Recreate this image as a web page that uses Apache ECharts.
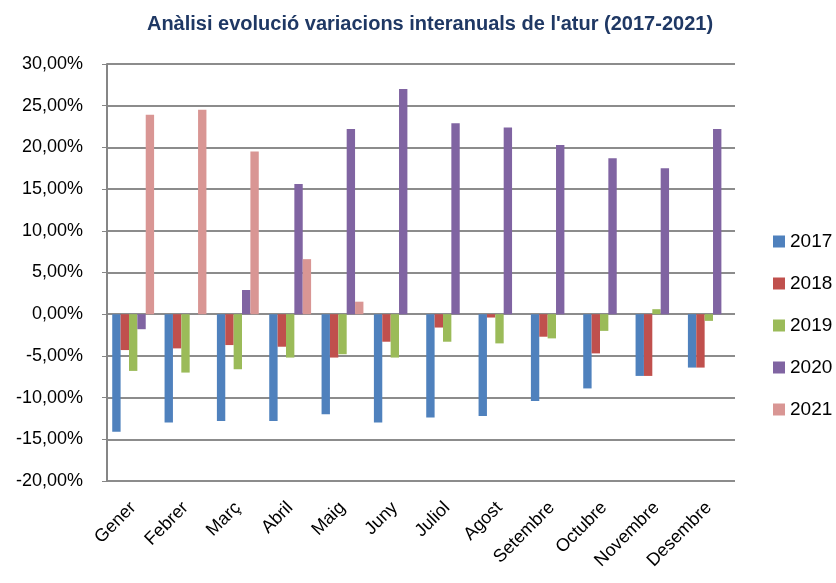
<!DOCTYPE html>
<html>
<head>
<meta charset="utf-8">
<script src="https://cdn.jsdelivr.net/npm/echarts@6/dist/echarts.min.js"></script>
<style>
  html, body { margin: 0; padding: 0; background: #fff; }
  #chart { width: 836px; height: 583px; }
</style>
</head>
<body>
<div id="chart"></div>
<script>
    'use strict';

    const months = ['Gener', 'Febrer', 'Març', 'Abril', 'Maig', 'Juny', 'Juliol', 'Agost', 'Setembre', 'Octubre', 'Novembre', 'Desembre'];

    const years = ['2017', '2018', '2019', '2020', '2021'];

    // variació interanual (%) per mes
    const v2017 = [-14.1, -13.0, -12.8, -12.8, -12.0, -13.0, -12.4, -12.2, -10.4, -8.9, -7.4, -6.4];
    const v2018 = [-4.3, -4.1, -3.7, -3.9, -5.2, -3.3, -1.6, -0.4, -2.7, -4.7, -7.4, -6.4];
    const v2019 = [-6.8, -7.0, -6.6, -5.2, -4.8, -5.2, -3.3, -3.5, -2.9, -2.0, 0.6, -0.8];
    const v2020 = [-1.8, null, 2.9, 15.6, 22.2, 27.0, 22.9, 22.4, 20.3, 18.7, 17.5, 22.2];
    const v2021 = [23.9, 24.5, 19.5, 6.6, 1.5, null, null, null, null, null, null, null];

    const seriesData = [v2017, v2018, v2019, v2020, v2021];
    const colors = ['#4F81BD', '#C0504D', '#9BBB59', '#8064A2', '#D99694'];

    const font = '"Liberation Sans", "DejaVu Sans", sans-serif';
    const pct = value => value.toFixed(2).replace('.', ',') + '%';

    const chart = echarts.init(document.getElementById('chart'));

    chart.setOption({
        animation: false,
        title: {
            text: "Anàlisi evolució variacions interanuals de l'atur (2017-2021)",
            left: 425,
            textAlign: 'center',
            top: 9,
            textStyle: { fontFamily: font, fontSize: 20, fontWeight: 'bold', color: '#1F3864' }
        },
        legend: {
            orient: 'vertical',
            left: 768,
            top: 227,
            itemWidth: 12,
            itemHeight: 12,
            itemGap: 23,
            icon: 'rect',
            data: years,
            textStyle: { fontFamily: font, fontSize: 19, lineHeight: 19, color: '#000' }
        },
        grid: { left: 107, right: 101, top: 64, bottom: 102 },
        xAxis: {
            type: 'category',
            data: months,
            axisLine: { show: false },
            axisTick: { show: false },
            axisLabel: { rotate: 45, fontFamily: font, fontSize: 18, color: '#000', interval: 0, margin: 24 }
        },
        yAxis: {
            type: 'value',
            min: -20,
            max: 30,
            interval: 5,
            axisLine: { show: true, lineStyle: { color: '#868686', width: 2 } },
            axisTick: { show: true, length: 5, lineStyle: { color: '#868686' } },
            splitLine: { lineStyle: { color: '#8c8c8c', width: 2 } },
            axisLabel: { formatter: pct, fontFamily: font, fontSize: 18, color: '#000', margin: 24 }
        },
        series: years.map((y, i) => ({
            name: y,
            type: 'bar',
            data: seriesData[i],
            barGap: '0%',
            barCategoryGap: '20%',
            itemStyle: { color: colors[i] }
        })),
        color: colors
    });
</script>
</body>
</html>
